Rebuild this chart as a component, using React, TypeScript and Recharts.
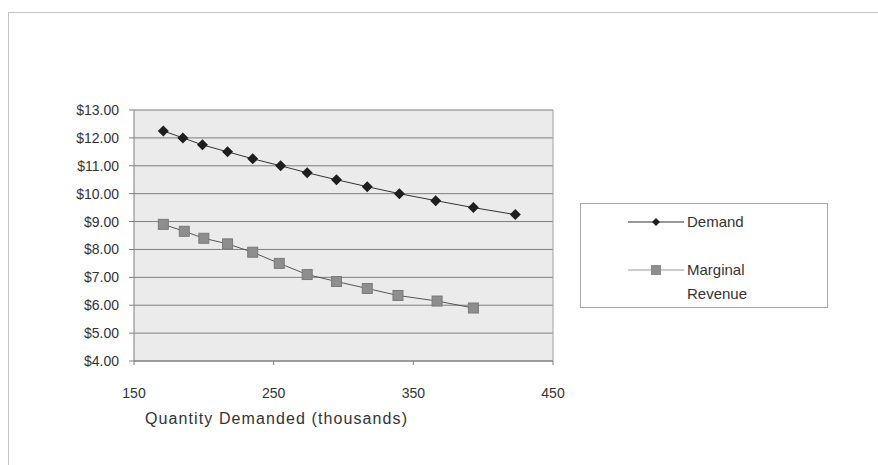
import { CartesianGrid, ReferenceLine, Scatter, ScatterChart, XAxis, YAxis } from 'recharts';

const DEMAND_QTY = [171, 185, 199, 217, 235, 255, 274, 295, 317, 340, 366, 393, 423];
const DEMAND_PRICE = [12.25, 12.0, 11.75, 11.5, 11.25, 11.0, 10.75, 10.5, 10.25, 10.0, 9.75, 9.5, 9.25];
const MR_QTY = [171, 186, 200, 217, 235, 254, 274, 295, 317, 339, 367, 393];
const MR_VALUE = [8.9, 8.65, 8.4, 8.2, 7.9, 7.5, 7.1, 6.85, 6.6, 6.35, 6.15, 5.9];
const X_TICKS = [150, 250, 350, 450];
const Y_TICKS = [4, 5, 6, 7, 8, 9, 10, 11, 12, 13];

const demand = DEMAND_QTY.map((q, i) => ({ q, p: DEMAND_PRICE[i] }));
const marginal = MR_QTY.map((q, i) => ({ q, p: MR_VALUE[i] }));

const FONT = '"Liberation Sans", Arial, sans-serif';

function Diamond({ cx, cy }: { cx?: number; cy?: number }) {
  if (cx == null || cy == null) return null;
  const r = 5.5;
  return <polygon points={`${cx},${cy - r} ${cx + r},${cy} ${cx},${cy + r} ${cx - r},${cy}`} fill="#1e1e1e" />;
}

function Square({ cx, cy }: { cx?: number; cy?: number }) {
  if (cx == null || cy == null) return null;
  const s = 10;
  return <rect x={cx - s / 2} y={cy - s / 2} width={s} height={s} fill="#8e8e8e" stroke="#7a7a7a" />;
}

function LegendBox() {
  return (
    <div
      style={{
        position: 'absolute',
        left: 580,
        top: 203,
        width: 246,
        height: 103,
        border: '1px solid #a8a8a8',
        background: '#fff',
        fontFamily: FONT,
        fontSize: 15,
        color: '#333',
      }}
    >
      <svg width={246} height={103} style={{ position: 'absolute', left: 0, top: 0 }}>
        <line x1={47} x2={103} y1={18} y2={18} stroke="#333" />
        <polygon points="75,14 79,18 75,22 71,18" fill="#1e1e1e" />
        <line x1={47} x2={103} y1={66} y2={66} stroke="#999" />
        <rect x={70} y={61} width={10} height={10} fill="#8e8e8e" />
      </svg>
      <div style={{ position: 'absolute', left: 106, top: 8, lineHeight: '20px' }}>Demand</div>
      <div style={{ position: 'absolute', left: 106, top: 54, lineHeight: '24px' }}>
        Marginal
        <br />
        Revenue
      </div>
    </div>
  );
}

export default function App() {
  return (
    <div style={{ position: 'absolute', left: 0, top: 0, width: 878, height: 465, background: '#fff', overflow: 'hidden' }}>
      <div
        style={{
          position: 'absolute',
          left: 8,
          top: 12,
          width: 900,
          height: 500,
          borderTop: '1px solid #c4c4c4',
          borderLeft: '1px solid #c4c4c4',
        }}
      />
      <ScatterChart
        width={878}
        height={465}
        margin={{ top: 110, right: 325, bottom: 64, left: 74 }}
        style={{ position: 'absolute', left: 0, top: 0, fontFamily: FONT }}
      >
        <CartesianGrid fill="#ebebeb" vertical={false} stroke="#7e7e7e" />
        <XAxis
          type="number"
          dataKey="q"
          domain={[150, 450]}
          ticks={X_TICKS}
          height={40}
          axisLine={{ stroke: '#808080' }}
          tickLine={{ stroke: '#808080' }}
          tickSize={4}
          tickMargin={23}
          tick={{ fill: '#333', fontSize: 14 }}
        />
        <YAxis
          type="number"
          dataKey="p"
          domain={[4, 13]}
          ticks={Y_TICKS}
          interval={0}
          width={60}
          axisLine={{ stroke: '#808080' }}
          tickLine={{ stroke: '#808080' }}
          tickSize={5}
          tickMargin={10}
          tick={{ fill: '#333', fontSize: 14 }}
          tickFormatter={(v: number) => `$${v.toFixed(2)}`}
        />
        <ReferenceLine x={450} stroke="#a0a0a0" />
        <Scatter
          name="Demand"
          data={demand}
          line={{ stroke: '#333', strokeWidth: 1 }}
          shape={<Diamond />}
          isAnimationActive={false}
        />
        <Scatter
          name="Marginal Revenue"
          data={marginal}
          line={{ stroke: '#555', strokeWidth: 1 }}
          shape={<Square />}
          isAnimationActive={false}
        />
      </ScatterChart>
      <LegendBox />
      <div
        style={{
          position: 'absolute',
          left: 145,
          top: 410,
          fontFamily: FONT,
          fontSize: 16,
          letterSpacing: 1.1,
          color: '#333',
          whiteSpace: 'nowrap',
        }}
      >
        Quantity Demanded (thousands)
      </div>
    </div>
  );
}
